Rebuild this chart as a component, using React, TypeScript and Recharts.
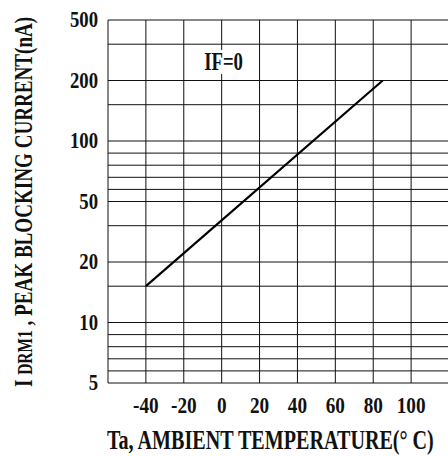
import React from 'react';
import {
  LineChart,
  Line,
  XAxis,
  YAxis,
  CartesianGrid,
  ReferenceDot,
} from 'recharts';

// ---- data ----
const temperatureC = [-40, 85];
const blockingCurrentNA = [16, 200];

// ---- axes ----
const xTicks = [-40, -20, 0, 20, 40, 60, 80, 100];
const xGridValues = [-60, -40, -20, 0, 20, 40, 60, 80, 100, 120];
const yTickLabels = [5, 10, 20, 50, 100, 200, 500];
const yGridValues = [5, 6, 7, 8, 9, 10, 16, 20, 38, 50, 60, 70, 80, 90, 100, 160, 200, 380, 500];

const noteText = 'IF=0';
const noteAt = { t: 1, i: 292 };

const data = temperatureC.map((t, k) => ({ t, i: blockingCurrentNA[k] }));

const FONT = "'Liberation Serif', 'Times New Roman', serif";
const INK = '#111';

// The datasheet's vertical scale has equally spaced 1-2-5 steps, linear within each step.
function createStepScale(knots: number[]): any {
  let dom: number[] = [knots[0], knots[knots.length - 1]];
  let rng: number[] = [0, 1];
  const n = knots.length;
  const idx = (v: number) => {
    if (v <= knots[0]) return (v - knots[0]) / (knots[1] - knots[0]);
    for (let k = 0; k < n - 1; k++) {
      if (v <= knots[k + 1]) return k + (v - knots[k]) / (knots[k + 1] - knots[k]);
    }
    return n - 2 + (v - knots[n - 2]) / (knots[n - 1] - knots[n - 2]);
  };
  const fromIdx = (p: number) => {
    if (p <= 0) return knots[0] + p * (knots[1] - knots[0]);
    const k = Math.min(Math.floor(p), n - 2);
    return knots[k] + (p - k) * (knots[k + 1] - knots[k]);
  };
  const scale: any = (v: any) => {
    const a = idx(Number(dom[0]));
    const b = idx(Number(dom[dom.length - 1]));
    const t = (idx(Number(v)) - a) / (b - a);
    return rng[0] + t * (rng[rng.length - 1] - rng[0]);
  };
  scale.domain = (d?: any[]) => {
    if (d === undefined) return dom.slice();
    dom = d.map(Number);
    return scale;
  };
  scale.range = (r?: any[]) => {
    if (r === undefined) return rng.slice();
    rng = r.map(Number);
    return scale;
  };
  scale.rangeRound = scale.range;
  scale.invert = (px: number) => {
    const a = idx(Number(dom[0]));
    const b = idx(Number(dom[dom.length - 1]));
    const t = (px - rng[0]) / (rng[rng.length - 1] - rng[0]);
    return fromIdx(a + t * (b - a));
  };
  scale.ticks = () => {
    const lo = Math.min(dom[0], dom[dom.length - 1]);
    const hi = Math.max(dom[0], dom[dom.length - 1]);
    return knots.filter((k) => k >= lo && k <= hi);
  };
  scale.tickFormat = () => (v: any) => String(v);
  scale.clamp = () => scale;
  scale.nice = () => scale;
  scale.unknown = () => scale;
  scale.interpolate = () => scale;
  scale.copy = () => createStepScale(knots).domain(dom).range(rng);
  return scale;
}

const yScale = createStepScale(yTickLabels);

const YTick = (props: any) => {
  const { y, payload } = props;
  return (
    <text
      transform={`translate(98, ${y + 7}) scale(0.78, 1)`}
      textAnchor="end"
      fontFamily={FONT}
      fontSize={24}
      fontWeight="bold"
      fill={INK}
    >
      {payload.value}
    </text>
  );
};

const XTick = (props: any) => {
  const { x, y, payload } = props;
  return (
    <text
      transform={`translate(${x}, ${y + 22}) scale(0.8, 1)`}
      textAnchor="middle"
      fontFamily={FONT}
      fontSize={24}
      fontWeight="bold"
      fill={INK}
    >
      {payload.value}
    </text>
  );
};

const XTitle = (props: any) => {
  const vb = props.viewBox || { x: 108, y: 383 };
  return (
    <text
      transform={`translate(${vb.x - 1}, ${vb.y + 66}) scale(0.745, 1)`}
      fontFamily={FONT}
      fontSize={27}
      fontWeight="bold"
      fill={INK}
    >
      Ta, AMBIENT TEMPERATURE(° C)
    </text>
  );
};

const YTitle = (props: any) => {
  const vb = props.viewBox || { x: 0, y: 20, height: 363 };
  return (
    <text
      transform={`translate(32, ${vb.y + vb.height + 4}) rotate(-90) scale(0.735, 1)`}
      fontFamily={FONT}
      fontWeight="bold"
      fill={INK}
    >
      <tspan fontSize={26}>I </tspan>
      <tspan fontSize={21}>DRM1</tspan>
      <tspan fontSize={26}> , PEAK BLOCKING CURRENT(nA)</tspan>
    </text>
  );
};

const NoteLabel = (props: any) => {
  const vb = props.viewBox || { x: 0, y: 0, width: 0, height: 0 };
  const cx = vb.x + (vb.width || 0) / 2;
  const cy = vb.y + (vb.height || 0) / 2;
  return (
    <g>
      <rect x={cx - 22} y={cy - 12} width={44} height={24} fill="#fff" />
      <text
        transform={`translate(${cx}, ${cy + 8}) scale(0.75, 1)`}
        textAnchor="middle"
        fontFamily={FONT}
        fontSize={25}
        fontWeight="bold"
        fill={INK}
      >
        {noteText}
      </text>
    </g>
  );
};

export default function App() {
  return (
    <div style={{ position: 'fixed', left: 0, top: 0, width: 448, height: 456, background: '#fff' }}>
      <LineChart
        width={449}
        height={456}
        data={data}
        margin={{ top: 20, right: 0, bottom: 0, left: 0 }}
      >
        <CartesianGrid
          horizontalValues={yGridValues}
          verticalValues={xGridValues}
          stroke={INK}
          strokeWidth={1}
        />
        <XAxis
          dataKey="t"
          type="number"
          domain={[-60, 120]}
          ticks={xTicks}
          interval={0}
          height={73}
          axisLine={false}
          tickLine={false}
          tick={<XTick />}
          label={<XTitle />}
        />
        <YAxis
          type="number"
          domain={[5, 500]}
          scale={yScale}
          ticks={yTickLabels}
          interval={0}
          width={108}
          axisLine={false}
          tickLine={false}
          tick={<YTick />}
          label={<YTitle />}
          allowDataOverflow
        />
        <ReferenceDot
          x={noteAt.t}
          y={noteAt.i}
          r={0}
          fill="none"
          stroke="none"
          label={<NoteLabel />}
        />
        <Line
          type="linear"
          dataKey="i"
          stroke="#000"
          strokeWidth={2.2}
          dot={false}
          isAnimationActive={false}
        />
      </LineChart>
    </div>
  );
}
